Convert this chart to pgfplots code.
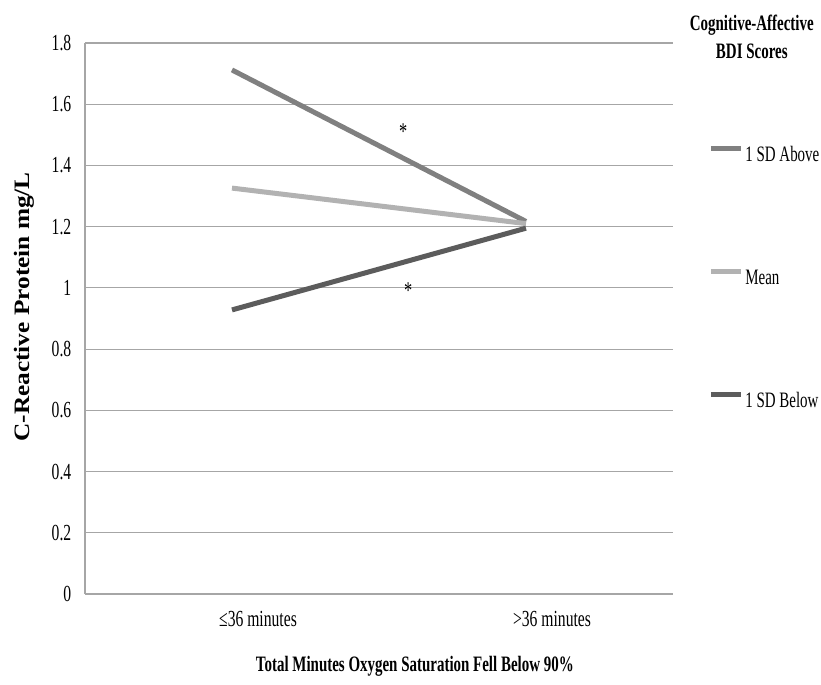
\documentclass[border=0pt]{standalone}
\usepackage{fontspec}
\setmainfont{Liberation Serif}[FakeStretch=0.68]
\newfontfamily\ylabfont{Liberation Serif}[FakeStretch=1.15]
\usepackage{pgfplots}
\pgfplotsset{compat=1.18}
\definecolor{cAbove}{HTML}{808080}
\definecolor{cMean}{HTML}{B2B2B2}
\definecolor{cBelow}{HTML}{5C5C5C}
\definecolor{cGrid}{HTML}{A6A6A6}
\begin{document}
\fontsize{11}{13}\selectfont
\begin{tikzpicture}
\useasboundingbox (-42.5pt,-45.5pt) rectangle (368pt,297pt);
\begin{axis}[
  scale only axis,
  width=294pt, height=275.5pt,
  xmin=-0.5, xmax=1.5,
  ymin=0, ymax=1.8,
  xtick={0,1},
  xticklabels={≤36 minutes,>36 minutes},
  ytick={0,0.2,0.4,0.6,0.8,1,1.2,1.4,1.6,1.8},
  yticklabels={0,0.2,0.4,0.6,0.8,1,1.2,1.4,1.6,1.8},
  major tick length=0pt,
  ymajorgrids,
  grid style={cGrid, line width=0.6pt},
  axis x line*=bottom,
  axis y line*=left,
  axis line style={cGrid, line width=0.7pt, -},
  tick label style={font=\fontsize{11.5}{13}\selectfont},
  /pgf/number format/assume math mode=true,
  yticklabel style={xshift=-3pt},
  xticklabel style={yshift=-5pt, xshift=13pt},
  every axis x label/.style={at={(axis description cs:0.561,-0.131)}, anchor=center, font=\bfseries\fontsize{11}{13}\selectfont},
  every axis y label/.style={at={(axis description cs:-0.104,0.521)}, anchor=center, rotate=90, font=\ylabfont\bfseries\fontsize{11}{13}\selectfont},
  xlabel={Total Minutes Oxygen Saturation Fell Below 90\%},
  ylabel={C-Reactive Protein mg/L},
  legend cell align=left,
  legend image code/.code={\draw[#1] (0pt,3.5pt) -- (15pt,3.5pt);},
  legend style={draw=none, fill=none, at={(axis description cs:1.0595,0.815)}, anchor=north west,
    row sep=51.5pt, inner sep=0pt, column sep=1pt,
    nodes={inner sep=0pt, text height=8pt, text depth=2pt, font=\fontsize{11}{13}\selectfont}},
  clip=false,
]
\addplot[cAbove, line width=2.5pt] coordinates {(0,1.712) (1,1.217)};
\addlegendentry{1 SD Above}
\addplot[cMean, line width=2.5pt] coordinates {(0,1.326) (1,1.21)};
\addlegendentry{Mean}
\addplot[cBelow, line width=2.5pt] coordinates {(0,0.928) (1,1.195)};
\addlegendentry{1 SD Below}
\node[font=\fontsize{12}{13}\selectfont] at (axis cs:0.582,1.51) {*};
\node[font=\fontsize{12}{13}\selectfont] at (axis cs:0.599,0.99) {*};
\node[font=\bfseries\fontsize{11}{13}\selectfont] at (axis description cs:1.134,1.033) {Cognitive-Affective};
\node[font=\bfseries\fontsize{11}{13}\selectfont] at (axis description cs:1.134,0.984) {BDI Scores};
\end{axis}
\end{tikzpicture}
\end{document}
